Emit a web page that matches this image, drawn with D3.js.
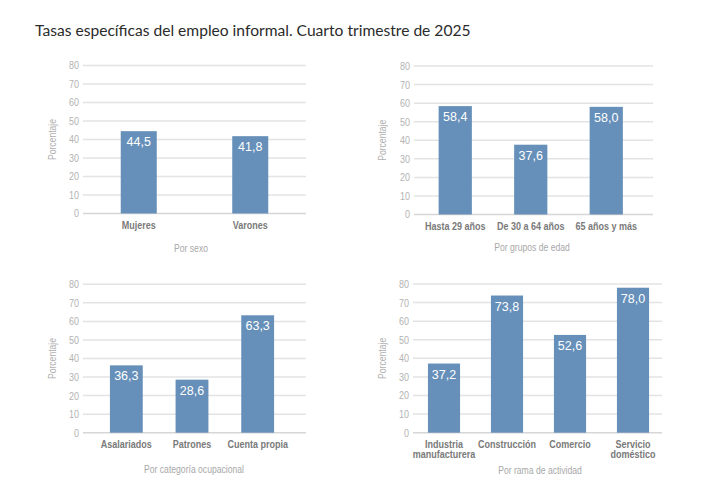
<!DOCTYPE html>
<html>
<head>
<meta charset="utf-8">
<script src="https://cdn.jsdelivr.net/npm/d3@7"></script>
<style>
  body { margin: 0; background: #fff; }
  .narrow { font-family: "Liberation Sans", Arial, sans-serif; }
  .tick-label { font-size: 11px; fill: #b3b3b3; }
  .cat-label { font-size: 11px; font-weight: bold; fill: #7a7a7a; }
  .sub-label { font-size: 10.5px; fill: #a8a8a8; }
  .y-title { font-size: 10.5px; fill: #b0b0b0; }
  .val-label { font-family: "Liberation Sans", Arial, sans-serif; font-size: 12.5px; fill: #fff; }
</style>
</head>
<body>
<div class="chart"></div>
<script>
var svgWidth = 722;
var svgHeight = 489;
var squeeze = 0.82; // fake condensed font

// data
var yTicks = [0, 10, 20, 30, 40, 50, 60, 70, 80];

var sexoCats = ["Mujeres", "Varones"];
var sexoVals = [44.5, 41.8];

var edadCats = ["Hasta 29 años", "De 30 a 64 años", "65 años y más"];
var edadVals = [58.4, 37.6, 58.0];

var ocupCats = ["Asalariados", "Patrones", "Cuenta propia"];
var ocupVals = [36.3, 28.6, 63.3];

var ramaCats = [["Industria", "manufacturera"], ["Construcción"], ["Comercio"], ["Servicio", "doméstico"]];
var ramaVals = [37.2, 73.8, 52.6, 78.0];

var svg = d3.select(".chart")
  .append("svg")
  .attr("width", svgWidth)
  .attr("height", svgHeight);

svg.append("text")
  .attr("x", 35)
  .attr("y", 36)
  .style("font-family", "Lato, 'Open Sans', sans-serif")
  .style("font-size", "15.6px")
  .style("fill", "#2b2b2b")
  .text("Tasas específicas del empleo informal. Cuarto trimestre de 2025");

// draw one small bar panel
function drawPanel(p) {
  var g = svg.append("g");

  var y = d3.scaleLinear().domain([0, 80]).range([p.y0, p.y80]);
  var x = d3.scaleBand()
    .domain(p.cats.map((d, i) => i))
    .range(p.band)
    .paddingInner(p.pad)
    .paddingOuter(p.pad / 2);

  // gridlines
  g.selectAll(".grid")
    .data(yTicks)
    .enter()
    .append("line")
    .attr("x1", p.grid[0])
    .attr("x2", p.grid[1])
    .attr("y1", d => y(d))
    .attr("y2", d => y(d))
    .attr("stroke", d => d === 0 ? "#d6d6d6" : "#e3e3e3")
    .attr("stroke-width", 1.5);

  // tick labels
  g.selectAll(".tick-label")
    .data(yTicks)
    .enter()
    .append("text")
    .attr("class", "tick-label narrow")
    .attr("transform", d => `translate(${p.grid[0] - 4}, ${y(d)}) scale(${squeeze}, 1)`)
    .attr("dy", "0.36em")
    .attr("text-anchor", "end")
    .text(d => d);

  // bars
  g.selectAll(".bar")
    .data(p.vals)
    .enter()
    .append("rect")
    .attr("x", (d, i) => x(i))
    .attr("y", d => y(d))
    .attr("width", x.bandwidth())
    .attr("height", d => y(0) - y(d))
    .attr("fill", "#6690b9");

  // value labels
  g.selectAll(".val-label")
    .data(p.vals)
    .enter()
    .append("text")
    .attr("class", "val-label")
    .attr("x", (d, i) => x(i) + x.bandwidth() / 2)
    .attr("y", d => y(d) + 15)
    .attr("text-anchor", "middle")
    .text(d => d.toFixed(1).replace(".", ","));

  // category labels
  var cats = g.selectAll(".cat-label")
    .data(p.cats)
    .enter()
    .append("text")
    .attr("class", "cat-label narrow")
    .attr("transform", (d, i) => `translate(${x(i) + x.bandwidth() / 2}, ${p.y0 + 15}) scale(${squeeze}, 1)`)
    .attr("text-anchor", "middle");
  cats.selectAll("tspan")
    .data(d => Array.isArray(d) ? d : [d])
    .enter()
    .append("tspan")
    .attr("x", 0)
    .attr("dy", (d, i) => i === 0 ? 0 : 10.5)
    .text(d => d);

  // y title
  g.append("text")
    .attr("class", "y-title narrow")
    .attr("transform", `translate(${p.yTitleX}, ${(p.y0 + p.y80) / 2}) rotate(-90) scale(${squeeze}, 1)`)
    .attr("text-anchor", "middle")
    .text("Porcentaje");

  // subtitle
  g.append("text")
    .attr("class", "sub-label narrow")
    .attr("transform", `translate(${p.subX}, ${p.subY}) scale(${squeeze}, 1)`)
    .attr("text-anchor", "middle")
    .text(p.sub);
}

drawPanel({ cats: sexoCats, vals: sexoVals, sub: "Por sexo",
  grid: [83, 306], band: [83, 306], pad: 0.677, y0: 213.5, y80: 65.5, yTitleX: 56, subX: 191, subY: 252 });
drawPanel({ cats: edadCats, vals: edadVals, sub: "Por grupos de edad",
  grid: [414, 653], band: [417.5, 644], pad: 0.56, y0: 214.5, y80: 66, yTitleX: 386, subX: 532, subY: 251 });
drawPanel({ cats: ocupCats, vals: ocupVals, sub: "Por categoría ocupacional",
  grid: [83, 306], band: [93.5, 290.5], pad: 0.5, y0: 432.7, y80: 284.3, yTitleX: 56, subX: 194, subY: 473 });
drawPanel({ cats: ramaCats, vals: ramaVals, sub: "Por rama de actividad",
  grid: [413, 662], band: [412.5, 664.5], pad: 0.49, y0: 432.7, y80: 284, yTitleX: 386, subX: 540, subY: 474 });
</script>
</body>
</html>
